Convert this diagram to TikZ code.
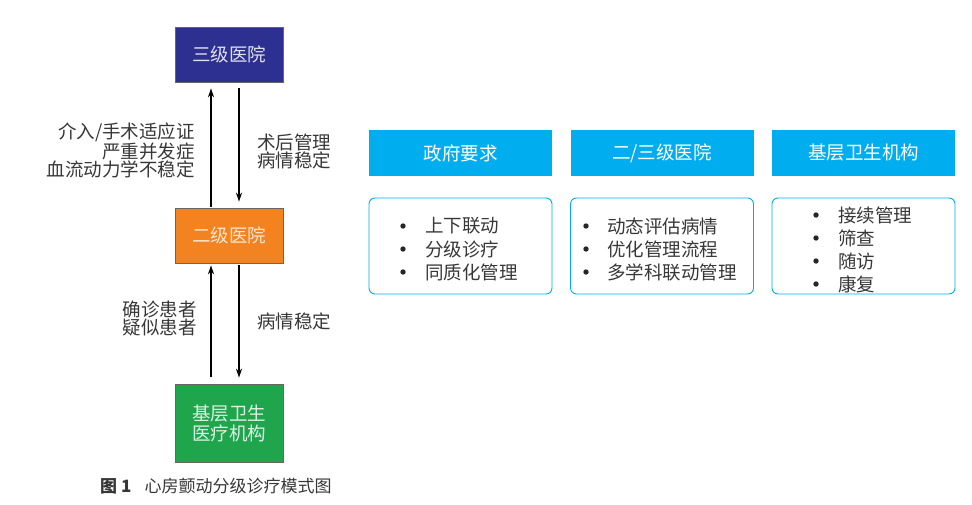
\documentclass[tikz,border=0pt]{standalone}
\usepackage{fontspec}
\setmainfont{Noto Sans CJK SC}
\usetikzlibrary{arrows.meta}
\definecolor{lvlthree}{RGB}{45,48,145}
\definecolor{lvltwo}{RGB}{243,130,32}
\definecolor{lvlone}{RGB}{31,166,77}
\definecolor{hdr}{RGB}{0,174,239}
\definecolor{txt}{RGB}{55,55,55}
\tikzset{
  hosp/.style={draw=black!60, line width=0.6pt, minimum width=108pt, inner sep=0pt, align=center, font=\fontsize{18.5}{20}\selectfont},
  hdrbox/.style={fill=hdr, minimum width=183pt, minimum height=46pt, inner sep=0pt, text=white, font=\fontsize{18.5}{20}\selectfont},
  listbox/.style={draw=hdr, line width=0.9pt, rounded corners=6pt, minimum width=183pt, minimum height=96pt, inner sep=0pt},
  lbl/.style={inner sep=0pt, text=txt, font=\fontsize{18.5}{18}\selectfont},
  item/.style={inner sep=0pt, anchor=west, text=txt, font=\fontsize{18.5}{18}\selectfont},
  arr/.style={line width=1.8pt, -{Stealth[length=9pt,width=6pt]}},
  bul/.style={fill=black!85}
}
\begin{document}
\begin{tikzpicture}[x=1pt,y=1pt]
\useasboundingbox (0,0) rectangle (972,-504);
% hospitals
\node[hosp, fill=lvlthree, minimum height=55pt, text=white!85!lvlthree] (l3) at (229,-54.5) {三级医院};
\node[hosp, fill=lvltwo, minimum height=55pt, text=white!80!lvltwo] (l2) at (229,-235.5) {二级医院};
\node[hosp, fill=lvlone, minimum height=78pt, text=white!85!lvlone] (l1) at (229,-423) {基层卫生\\医疗机构};
% arrows
\draw[arr, shorten <=1pt, shorten >=6pt] ([xshift=-18pt]l2.north) -- ([xshift=-18pt]l3.south);
\draw[arr, shorten <=6pt, shorten >=6pt] ([xshift=10pt]l3.south) -- ([xshift=10pt]l2.north);
\draw[arr, shorten <=7pt, shorten >=2pt] ([xshift=-18pt]l1.north) -- ([xshift=-18pt]l2.south);
\draw[arr, shorten <=2pt, shorten >=6pt] ([xshift=10pt]l2.south) -- ([xshift=10pt]l1.north);
% labels
\node[lbl, anchor=east, align=right] (up1) at (195,-150) {介入/手术适应证\\严重并发症\\血流动力学不稳定};
\node[lbl, anchor=west, align=left] (dn1) at (257,-151.5) {术后管理\\病情稳定};
\node[lbl, anchor=east, align=right] (up2) at (197,-318) {确诊患者\\疑似患者};
\node[lbl, anchor=west] (dn2) at (257,-321) {病情稳定};
% headers
\node[hdrbox] (h1) at (460.5,-153) {政府要求};
\node[hdrbox] (h2) at (662,-153) {二/三级医院};
\node[hdrbox] (h3) at (863.5,-153) {基层卫生机构};
% list boxes
\node[listbox] (b1) at (460.5,-246) {};
\node[listbox] (b2) at (662,-246) {};
\node[listbox] (b3) at (863.5,-246) {};
% list 1
\node[item] (a1) at (425,-226) {上下联动};
\node[item] (a2) at (425,-249) {分级诊疗};
\node[item] (a3) at (425,-272) {同质化管理};
\fill[bul] (403,-226) circle (2.7pt) (403,-249) circle (2.7pt) (403,-272) circle (2.7pt);
% list 2
\node[item] (c1) at (607,-226) {动态评估病情};
\node[item] (c2) at (607,-249) {优化管理流程};
\node[item] (c3) at (607,-272) {多学科联动管理};
\fill[bul] (586,-226) circle (2.7pt) (586,-249) circle (2.7pt) (586,-272) circle (2.7pt);
% list 3
\node[item] (d1) at (838,-215) {接续管理};
\node[item] (d2) at (838,-238) {筛查};
\node[item] (d3) at (838,-261) {随访};
\node[item] (d4) at (838,-284) {康复};
\fill[bul] (816,-215) circle (2.7pt) (816,-238) circle (2.7pt) (816,-261) circle (2.7pt) (816,-284) circle (2.7pt);
% caption
\node[inner sep=0pt, anchor=west, text=txt, font=\fontsize{17}{17}\selectfont] (cap) at (100,-486) {\textbf{图\hspace{4pt}1}\hspace{13pt}心房颤动分级诊疗模式图};
\end{tikzpicture}
\end{document}
